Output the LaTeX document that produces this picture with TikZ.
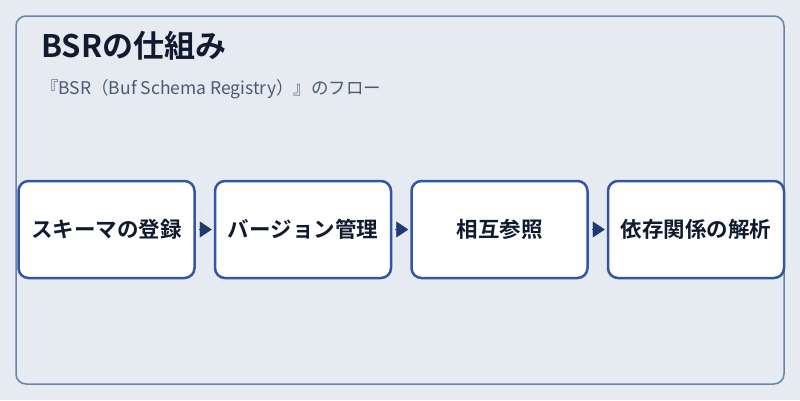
\documentclass[tikz,border=0pt]{standalone}
\usepackage{fontspec}
\setmainfont{Noto Sans CJK JP}[BoldFont={Noto Sans CJK JP Bold}]
\usepackage{xcolor}
\definecolor{Paper}{RGB}{230,235,241}
\definecolor{Frame}{RGB}{106,130,173}
\definecolor{Edge}{RGB}{52,86,160}
\definecolor{Navy}{RGB}{31,58,112}
\definecolor{Ink}{RGB}{17,27,48}
\definecolor{Muted}{RGB}{74,90,117}
\definecolor{White}{RGB}{255,255,255}
\usetikzlibrary{positioning, arrows.meta}

\begin{document}
\begin{tikzpicture}[x=1pt, y=-1pt,
		stepbox/.style={draw=Edge, fill=White, line width=2.5pt, rounded corners=10pt, minimum width=176pt, minimum height=97pt, inner sep=0pt, font=\fontsize{21.5}{24}\selectfont\bfseries, text=Ink},
		flow/.style={draw=Navy, fill=Navy, line width=0.4pt, -{Triangle[length=12pt, width=16pt]}, shorten >=2pt, shorten <=3pt}]
		
		% Background
		\useasboundingbox (0,0) rectangle (800,400);
		\fill[Paper] (0,0) rectangle (800,400);
		\draw[draw=Frame, line width=1.5pt, rounded corners=10pt] (16,16) rectangle (784,384);
		
		% Text
		\node[anchor=base west, inner sep=0pt, text=Ink, font=\fontsize{31}{34}\selectfont\bfseries] (title) at (41,57) {BSRの仕組み};
		\node[anchor=base west, inner sep=0pt, text=Muted, font=\fontsize{17.5}{20}\selectfont] (subtitle) at (41,94) {『BSR（Buf Schema Registry）』のフロー};
		
		% Steps
		\node[stepbox] (register) at (106.5,229.5) {スキーマの登録};
		\node[stepbox, right=18pt of register] (version) {バージョン管理};
		\node[stepbox, right=18pt of version] (reference) {相互参照};
		\node[stepbox, right=18pt of reference] (resolve) {依存関係の解析};
		
		% Arrows
		\draw[flow] (register) -- (version);
		\draw[flow] (version) -- (reference);
		\draw[flow] (reference) -- (resolve);
		
	\end{tikzpicture}
\end{document}
